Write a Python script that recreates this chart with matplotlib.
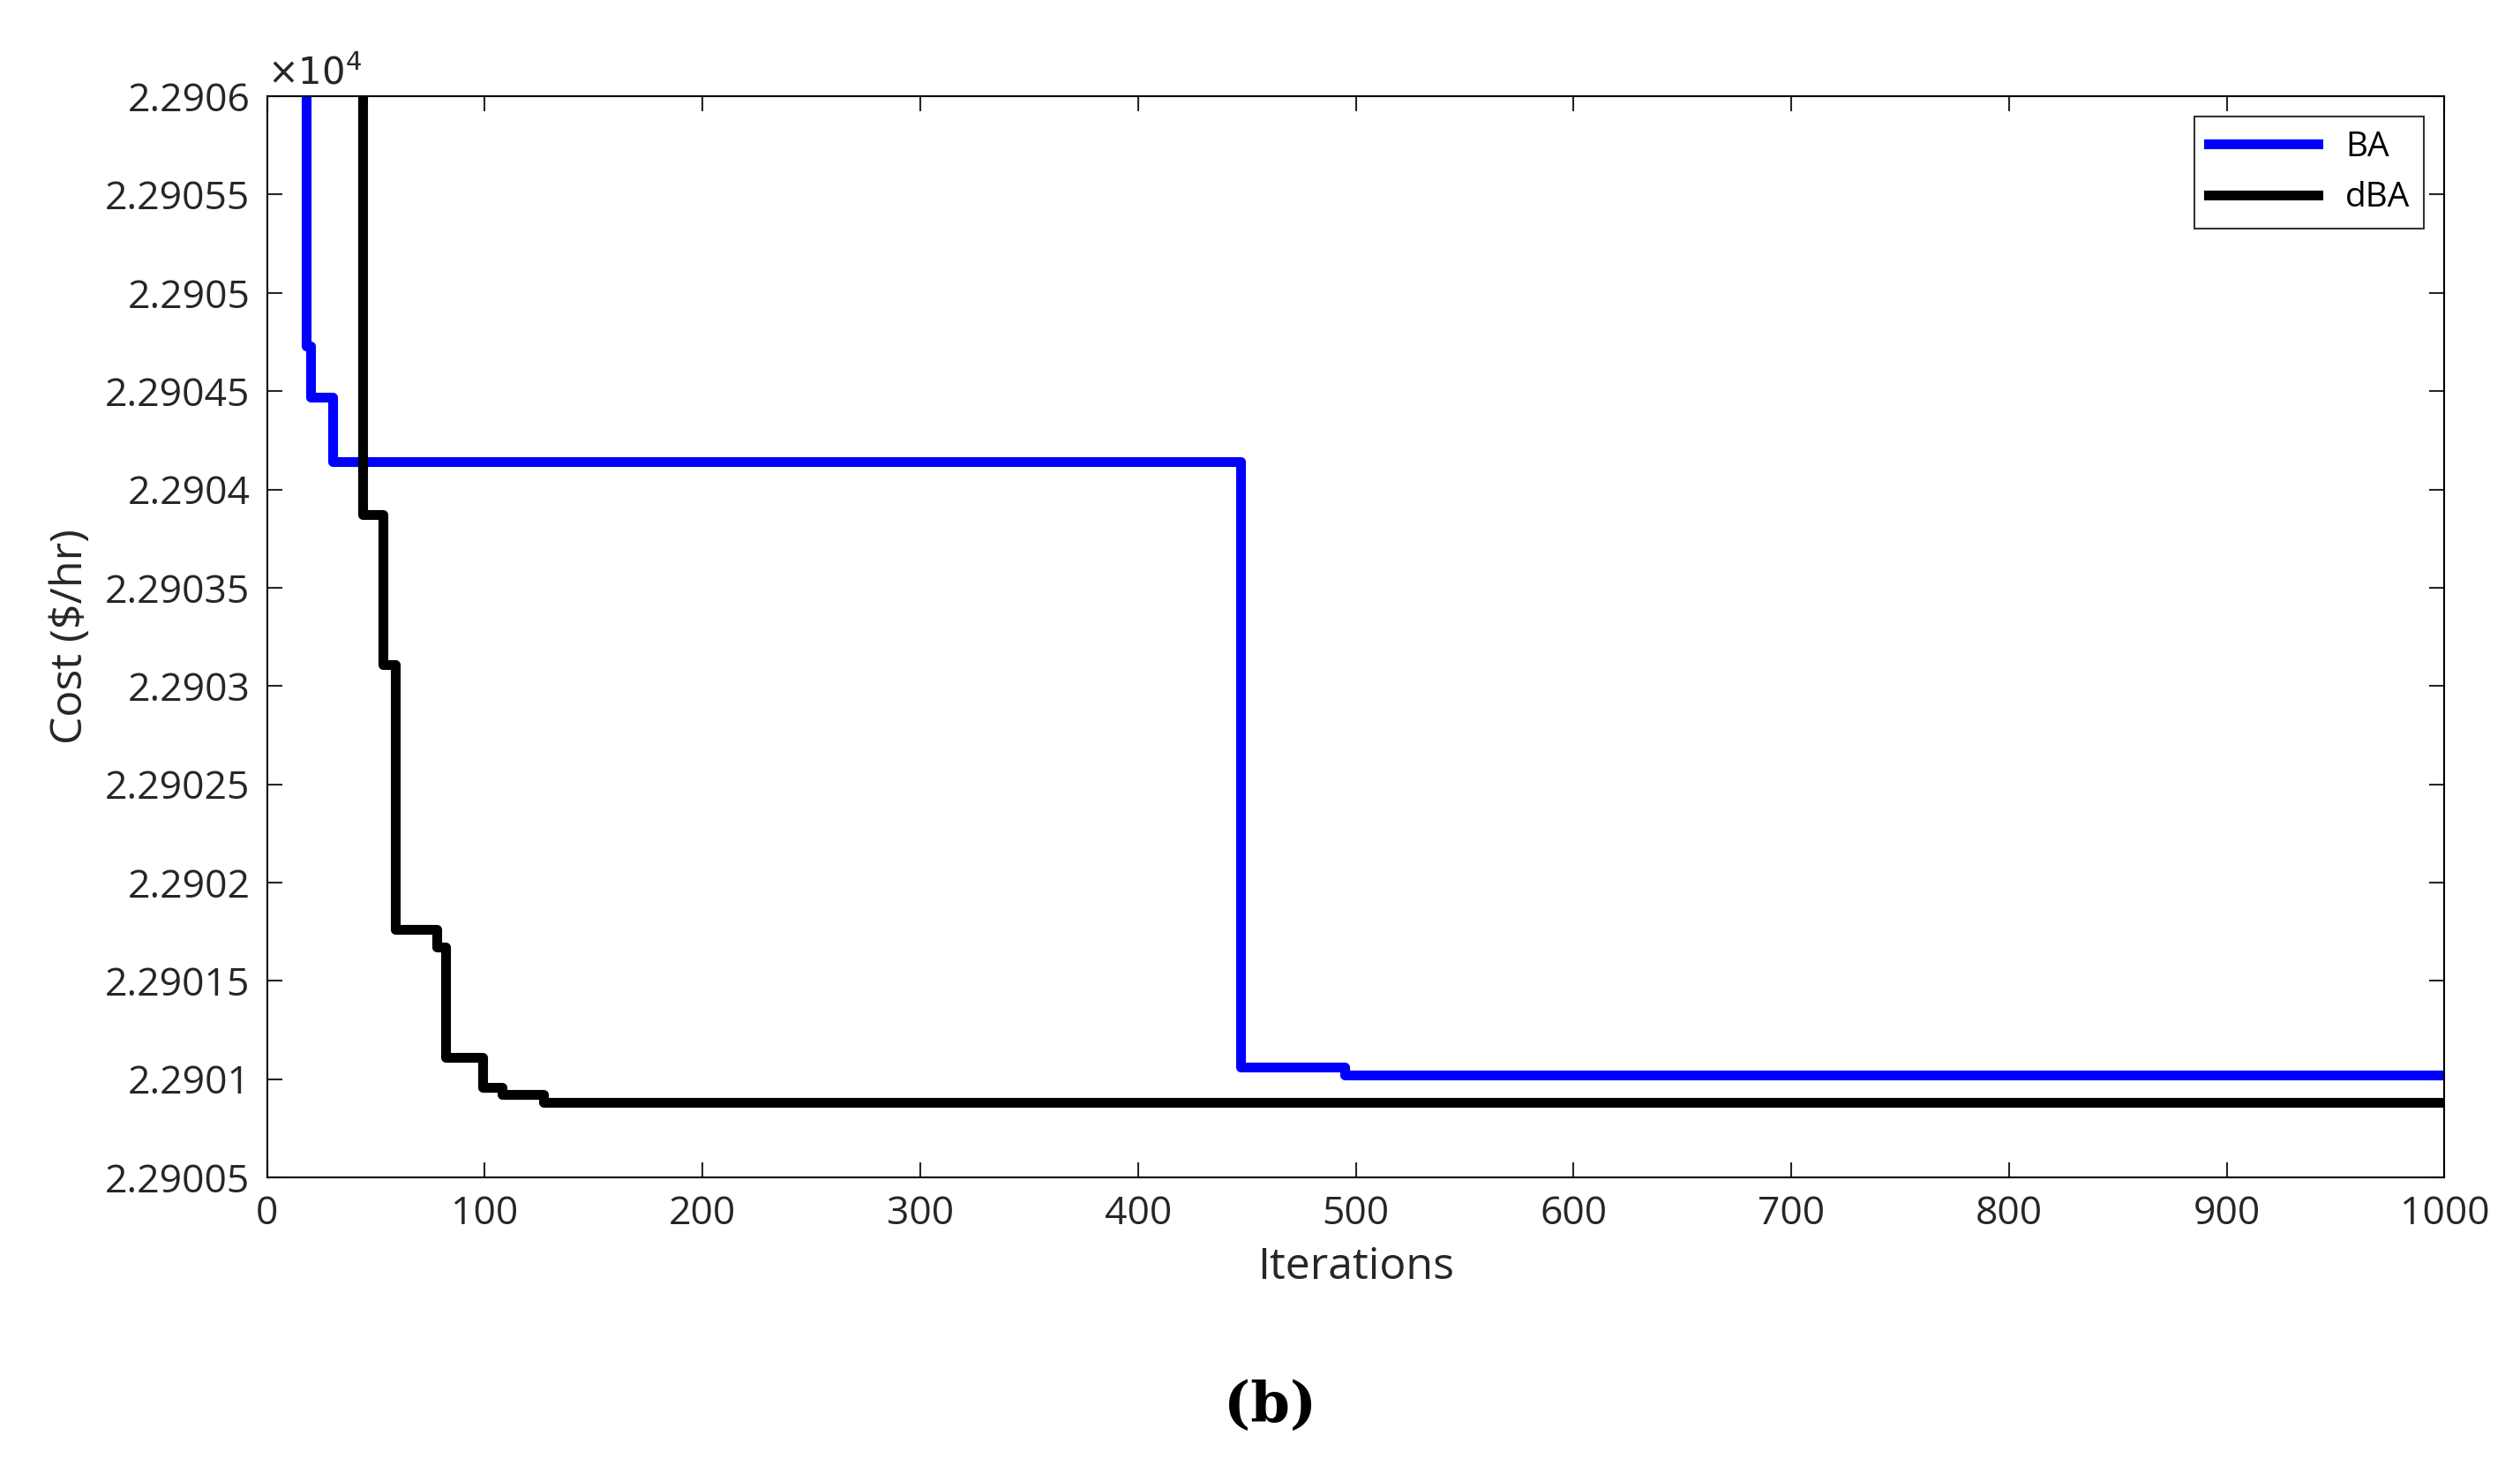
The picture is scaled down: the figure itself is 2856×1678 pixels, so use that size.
import matplotlib
matplotlib.use("Agg")
import matplotlib.pyplot as plt
from matplotlib.ticker import FixedLocator

ba_x = [1, 18, 20, 30, 447, 495, 1000]
ba_y = [2.2907, 2.290473, 2.290447, 2.290414, 2.290106, 2.290102, 2.290102]
dba_x = [1, 44, 53, 59, 78, 82, 99, 108, 127, 1000]
dba_y = [2.2907, 2.290387, 2.290311, 2.290176, 2.290167, 2.290111, 2.290096, 2.290092, 2.290088, 2.290088]
yticks = [2.29005 + 0.00005 * i for i in range(12)]
ylabels = ["2.29005", "2.2901", "2.29015", "2.2902", "2.29025", "2.2903", "2.29035",
           "2.2904", "2.29045", "2.2905", "2.29055", "2.2906"]

plt.rcParams['font.family'] = ['Open Sans', 'DejaVu Sans']
fig = plt.figure(figsize=(28.56, 16.78), dpi=100)
ax = fig.add_axes([0.106, 0.205, 0.864, 0.73])
ax.step(ba_x, ba_y, where="post", color="#0000ff", lw=8, label="BA")
ax.step(dba_x, dba_y, where="post", color="black", lw=8, label="dBA")
ax.set_xlim(0, 1000)
ax.set_ylim(2.29005, 2.2906)
ax.yaxis.set_major_locator(FixedLocator(yticks))
ax.set_yticklabels(ylabels)
ax.set_xticks(range(0, 1001, 100))
ax.tick_params(labelsize=32, direction="in", length=12, width=1.5, top=True, right=True,
               colors="#262626", pad=14)
for s in ax.spines.values():
    s.set_linewidth(1.5)
ax.set_xlabel("Iterations", fontsize=36, color="#262626", labelpad=10)
ax.set_ylabel("Cost ($/hr)", fontsize=36, color="#262626", labelpad=10)
ax.text(0.0, 1.003, r"$\times10^4$", transform=ax.transAxes, fontsize=30, va="bottom", color="#262626")
leg = ax.legend(loc="upper right", fontsize=28, fancybox=False, edgecolor="black",
                handlelength=3.2, borderaxespad=0.6)
leg.get_frame().set_linewidth(1.5)
fig.text(0.504, 0.04, "(b)", fontsize=46, fontweight="bold", family="DejaVu Serif", ha="center")
fig.savefig("out.png", dpi=100)
